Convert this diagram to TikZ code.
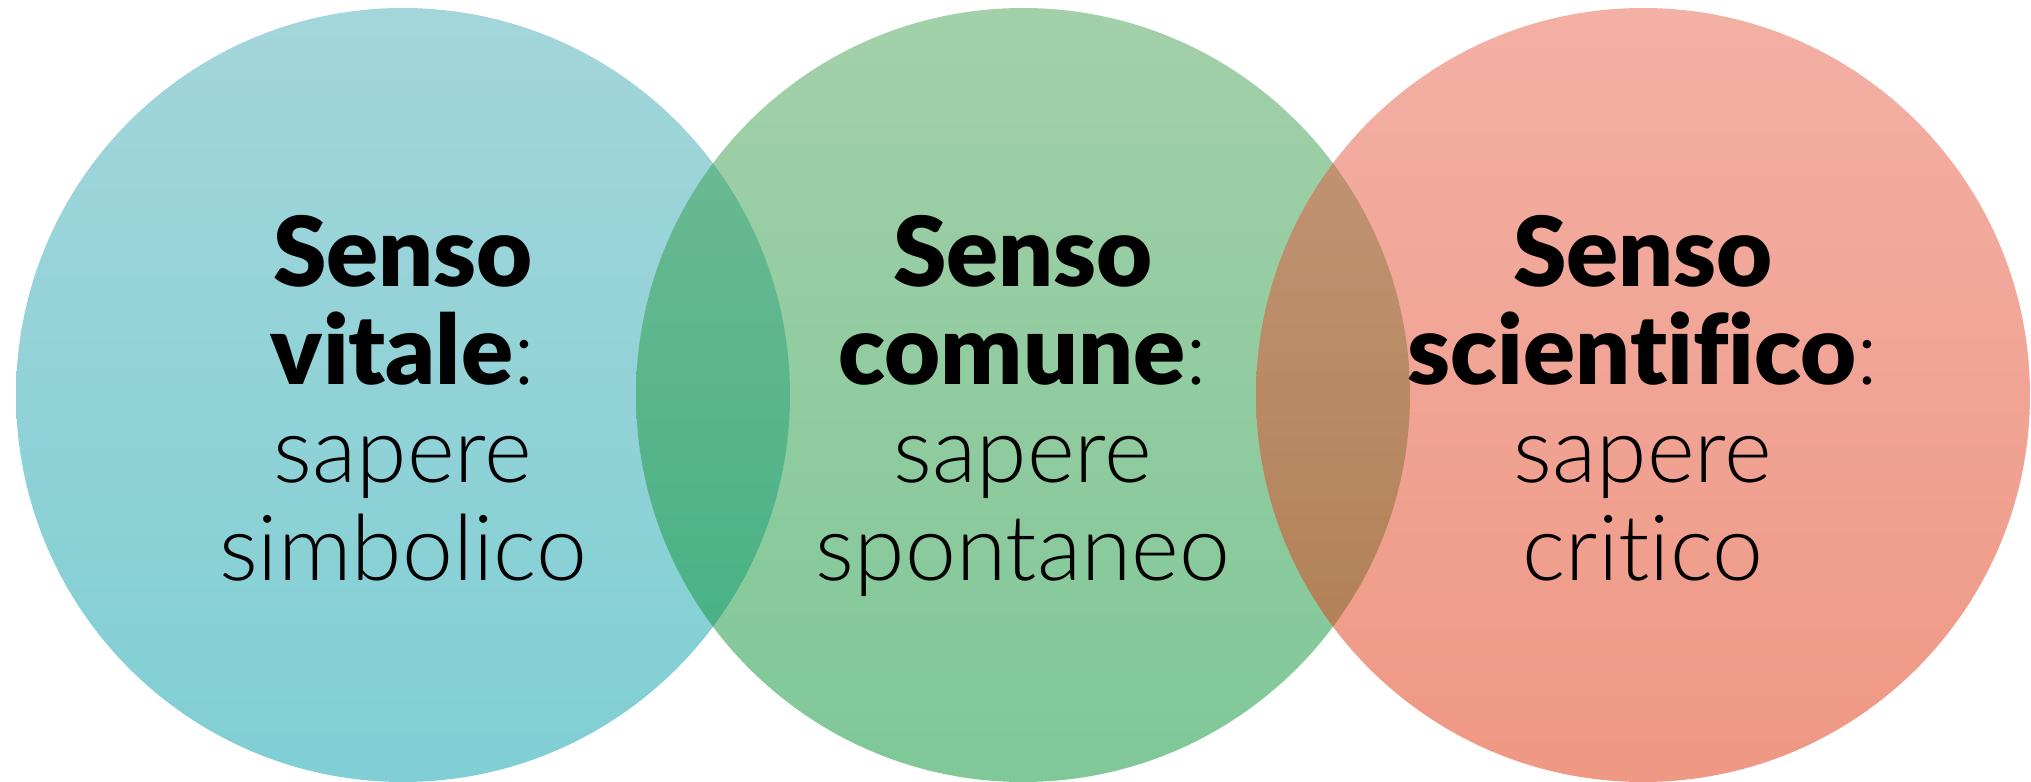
\documentclass[tikz,border=0pt]{standalone}
\usepackage{fontspec}
\setmainfont{Lato}[UprightFont={Lato Light},BoldFont={Lato Black},Ligatures=NoCommon]
\definecolor{vitaletop}{RGB}{71,173,183}
\definecolor{vitalebot}{RGB}{0,159,169}
\definecolor{comunetop}{RGB}{71,161,83}
\definecolor{comunebot}{RGB}{0,145,49}
\definecolor{scienzatop}{RGB}{231,97,75}
\definecolor{scienzabot}{RGB}{223,49,9}
\newcommand\sensofont{\fontsize{26}{27.9}\selectfont\lineskiplimit -20pt\relax}
\newcommand\sensobf[1]{{\fontsize{27.5}{27.9}\selectfont\bfseries #1}}
\tikzset{
  senso/.style={fill opacity=0.5},
  sensotext/.style={align=center,inner sep=0pt,text=black,font=\sensofont},
}
\begin{document}
\begin{tikzpicture}
    \useasboundingbox (0,0) rectangle (20.31,7.82);
    % the three circles, each one laid over the previous
    \shade[senso,top color=vitaletop,middle color=vitalebot!75!vitaletop,bottom color=vitalebot]
      (4.03,3.87) circle (3.87);
    \shade[senso,top color=comunetop,middle color=comunebot!75!comunetop,bottom color=comunebot]
      (10.23,3.87) circle (3.87);
    \shade[senso,top color=scienzatop,middle color=scienzabot!75!scienzatop,bottom color=scienzabot]
      (16.43,3.87) circle (3.87);
    % labels
    \node[sensotext] (vitale) at (4.03,3.69)
      {\strut\sensobf{Senso}\\\sensobf{vitale}:\\sapere\\simbolico\strut};
    \node[sensotext] (comune) at (10.23,3.69)
      {\strut\sensobf{Senso}\\\sensobf{comune}:\\sapere\\spontaneo\strut};
    \node[sensotext] (scienza) at (16.43,3.69)
      {\strut\sensobf{Senso}\\\sensobf{scientifico}:\\sapere\\critico\strut};
\end{tikzpicture}
\end{document}
